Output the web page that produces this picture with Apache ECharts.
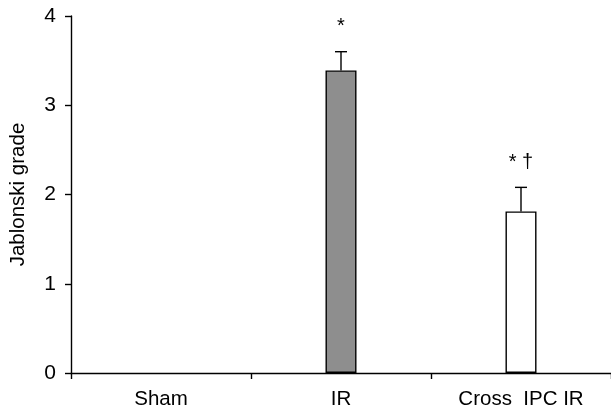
<!DOCTYPE html>
<html><head><meta charset="utf-8">
<script src="https://cdn.jsdelivr.net/npm/echarts@6/dist/echarts.min.js"></script>
<style>html,body{margin:0;padding:0;background:#fff}#c{width:611px;height:410px}</style>
</head><body><div id="c"></div>
<script>
const categories = ["Sham", "IR", "Cross  IPC IR"];
const means = [0, 3.39, 1.81];
const errors = [0, 0.21, 0.27];
const marks = ["", "*", "* \u2020"];
const barColors = ["#ffffff", "#8e8e8e", "#ffffff"];
const yTicks = [0, 1, 2, 3, 4];

const FONT = "Liberation Sans, Arial, sans-serif";
const chart = echarts.init(document.getElementById('c'), null, {renderer: 'canvas'});
chart.setOption({
  animation: false,
  backgroundColor: '#fff',
  grid: {left: 68, right: 0, top: 16, bottom: 36, containLabel: false},
  xAxis: {
    type: 'category', data: categories,
    axisLine: {lineStyle: {color: '#000', width: 1.4}},
    axisTick: {show: true, length: 6, lineStyle: {color: '#000', width: 1.4}},
    axisLabel: {color: '#000', fontSize: 20.5, fontFamily: FONT, margin: 16}
  },
  yAxis: {
    type: 'value', min: yTicks[0], max: yTicks[yTicks.length - 1], interval: 1,
    name: 'Jablonski grade', nameLocation: 'middle', nameGap: 42,
    nameTextStyle: {color: '#000', fontSize: 20.5, fontFamily: FONT},
    axisLine: {show: true, lineStyle: {color: '#000', width: 1.4}},
    axisTick: {show: true, length: 6, lineStyle: {color: '#000', width: 1.4}},
    axisLabel: {color: '#000', fontSize: 21, fontFamily: FONT, margin: 15},
    splitLine: {show: false}
  },
  series: [
    {
      type: 'bar', barWidth: 31,
      data: means.map((v, i) => ({value: v, itemStyle: {color: barColors[i], borderWidth: v ? 1.4 : 0}})),
      itemStyle: {borderColor: '#000'}
    },
    {
      type: 'custom', z: 5,
      data: means.map((v, i) => [i, v, errors[i]]),
      renderItem: function (params, api) {
        const i = api.value(0), m = api.value(1), e = api.value(2);
        if (!e) return null;
        const base = api.coord([i, m]);
        const top = api.coord([i, m + e]);
        const half = 6;
        return {
          type: 'group',
          children: [
            {type: 'line', shape: {x1: top[0], y1: base[1], x2: top[0], y2: top[1]}, style: {stroke: '#000', lineWidth: 1.4}},
            {type: 'line', shape: {x1: top[0] - half, y1: top[1], x2: top[0] + half, y2: top[1]}, style: {stroke: '#000', lineWidth: 1.4}},
            {type: 'text', x: top[0], y: top[1] - 25, style: {text: marks[i], fill: '#000', font: '20px ' + FONT, align: 'center', verticalAlign: 'middle'}}
          ]
        };
      }
    }
  ]
});
</script></body></html>
